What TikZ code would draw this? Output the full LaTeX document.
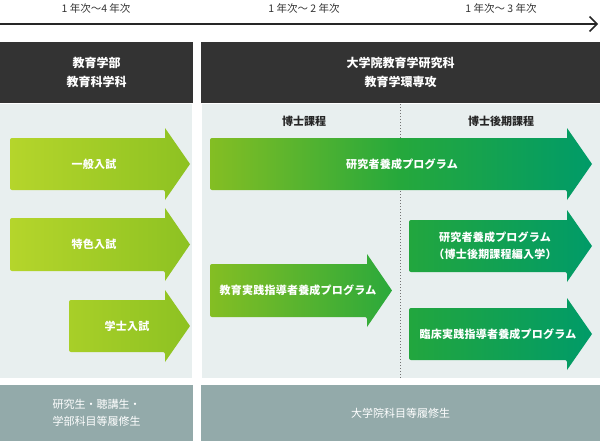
\documentclass[tikz,border=0pt]{standalone}
\usepackage{fontspec}
\setmainfont{Noto Sans CJK JP}
\definecolor{hdrc}{HTML}{333333}
\definecolor{panelc}{HTML}{E8EFEF}
\definecolor{botc}{HTML}{93AAAA}
\definecolor{txtc}{HTML}{333333}
\definecolor{gA}{HTML}{B5D52B}
\definecolor{gAm}{HTML}{A8CF28}
\definecolor{gB}{HTML}{8DC222}
\definecolor{gC}{HTML}{84BE23}
\definecolor{gD}{HTML}{2BA93B}
\definecolor{gE}{HTML}{25A83C}
\definecolor{gF}{HTML}{22A63E}
\definecolor{gG}{HTML}{009B68}
% #1 x0, #2 x head, #3 x tip, #4 y top, #5 y bottom, #6 shading
\newcommand{\garrow}[6]{%
  \path[#6] (#2,#4) [rounded corners=2pt] -- (#1,#4) -- (#1,#5) -- (#2,#5)
    [sharp corners] -- (#2,#5+10) -- (#3,{(#4+#5)/2}) -- (#2,#4-10) -- cycle;}
\begin{document}
\begin{tikzpicture}[x=1pt,y=-1pt,
  toplbl/.style={text=txtc,font=\fontsize{10.5}{12}\selectfont},
  hdrbox/.style={fill=hdrc,text=white,align=center,inner sep=0pt,
    font=\fontsize{12}{19}\selectfont\bfseries},
  botbox/.style={fill=botc,text=white,align=center,inner sep=0pt,
    font=\fontsize{11}{17}\selectfont},
  sublbl/.style={text=black!85,font=\fontsize{11}{13}\selectfont\bfseries},
  arrtxt/.style={text=white,align=center,
    font=\fontsize{11}{17}\selectfont\bfseries\addfontfeatures{LetterSpace=2}},
  axisline/.style={draw=black!85,line width=1.5pt},
  divider/.style={draw=black!55,line width=0.8pt,dash pattern=on 1pt off 2pt}]
\useasboundingbox (0,0) rectangle (600,444);
% time axis
\coordinate (axL) at (0,24);
\coordinate (axR) at (597,24);
\draw[axisline] (axL) -- (axR);
\draw[axisline,line join=miter] (589.5,16.5) -- (axR) -- (589.5,31.5);
\node[toplbl] (y1) at (96,8) {1 年次〜4 年次};
\node[toplbl] (y2) at (304,8) {1 年次〜 2 年次};
\node[toplbl] (y3) at (501,8) {1 年次〜 3 年次};
% headers
\node[hdrbox,minimum width=193pt,minimum height=61pt] (hL) at (96.5,72.5) {教育学部\\教育科学科};
\node[hdrbox,minimum width=399pt,minimum height=61pt] (hR) at (400.5,72.5) {大学院教育学研究科\\教育学環専攻};
% panels
\fill[panelc] (0,104) rectangle (192,378);
\fill[panelc] (202,104) rectangle (600,378);
\coordinate (dvT) at (400,104);
\coordinate (dvB) at (400,378);
\draw[divider] (dvT) -- (dvB);
\node[sublbl] (s1) at (304,121) {博士課程};
\node[sublbl] (s2) at (501,121) {博士後期課程};
% left arrows
\garrow{10}{165}{190}{138}{190}{left color=gA,right color=gB}
\garrow{10}{165}{190}{218}{271}{left color=gA,right color=gB}
\garrow{69}{165}{190}{300}{352}{left color=gAm,right color=gB}
\node[arrtxt] (a1) at (94,164) {一般入試};
\node[arrtxt] (a2) at (94,244) {特色入試};
\node[arrtxt] (a3) at (127,326) {学士入試};
% right arrows
\garrow{210}{567}{592}{138}{190}{left color=gC,right color=gG,middle color=gE}
\garrow{210}{367}{392}{264}{317}{left color=gC,right color=gD}
\garrow{409}{567}{592}{220}{272}{left color=gF,right color=gG}
\garrow{409}{567}{592}{308}{360}{left color=gF,right color=gG}
\node[arrtxt] (r1) at (402,164) {研究者養成プログラム};
\node[arrtxt] (r2) at (298,290.5) {教育実践指導者養成プログラム};
\node[arrtxt] (r3) at (495,246) {研究者養成プログラム\\（博士後期課程編入学）};
\node[arrtxt] (r4) at (498,334.5) {臨床実践指導者養成プログラム};
% bottom boxes
\node[botbox,minimum width=193pt,minimum height=56pt] (bL) at (96.5,413) {研究生・聴講生・\\学部科目等履修生};
\node[botbox,minimum width=399pt,minimum height=56pt] (bR) at (400.5,413) {大学院科目等履修生};
\end{tikzpicture}
\end{document}
